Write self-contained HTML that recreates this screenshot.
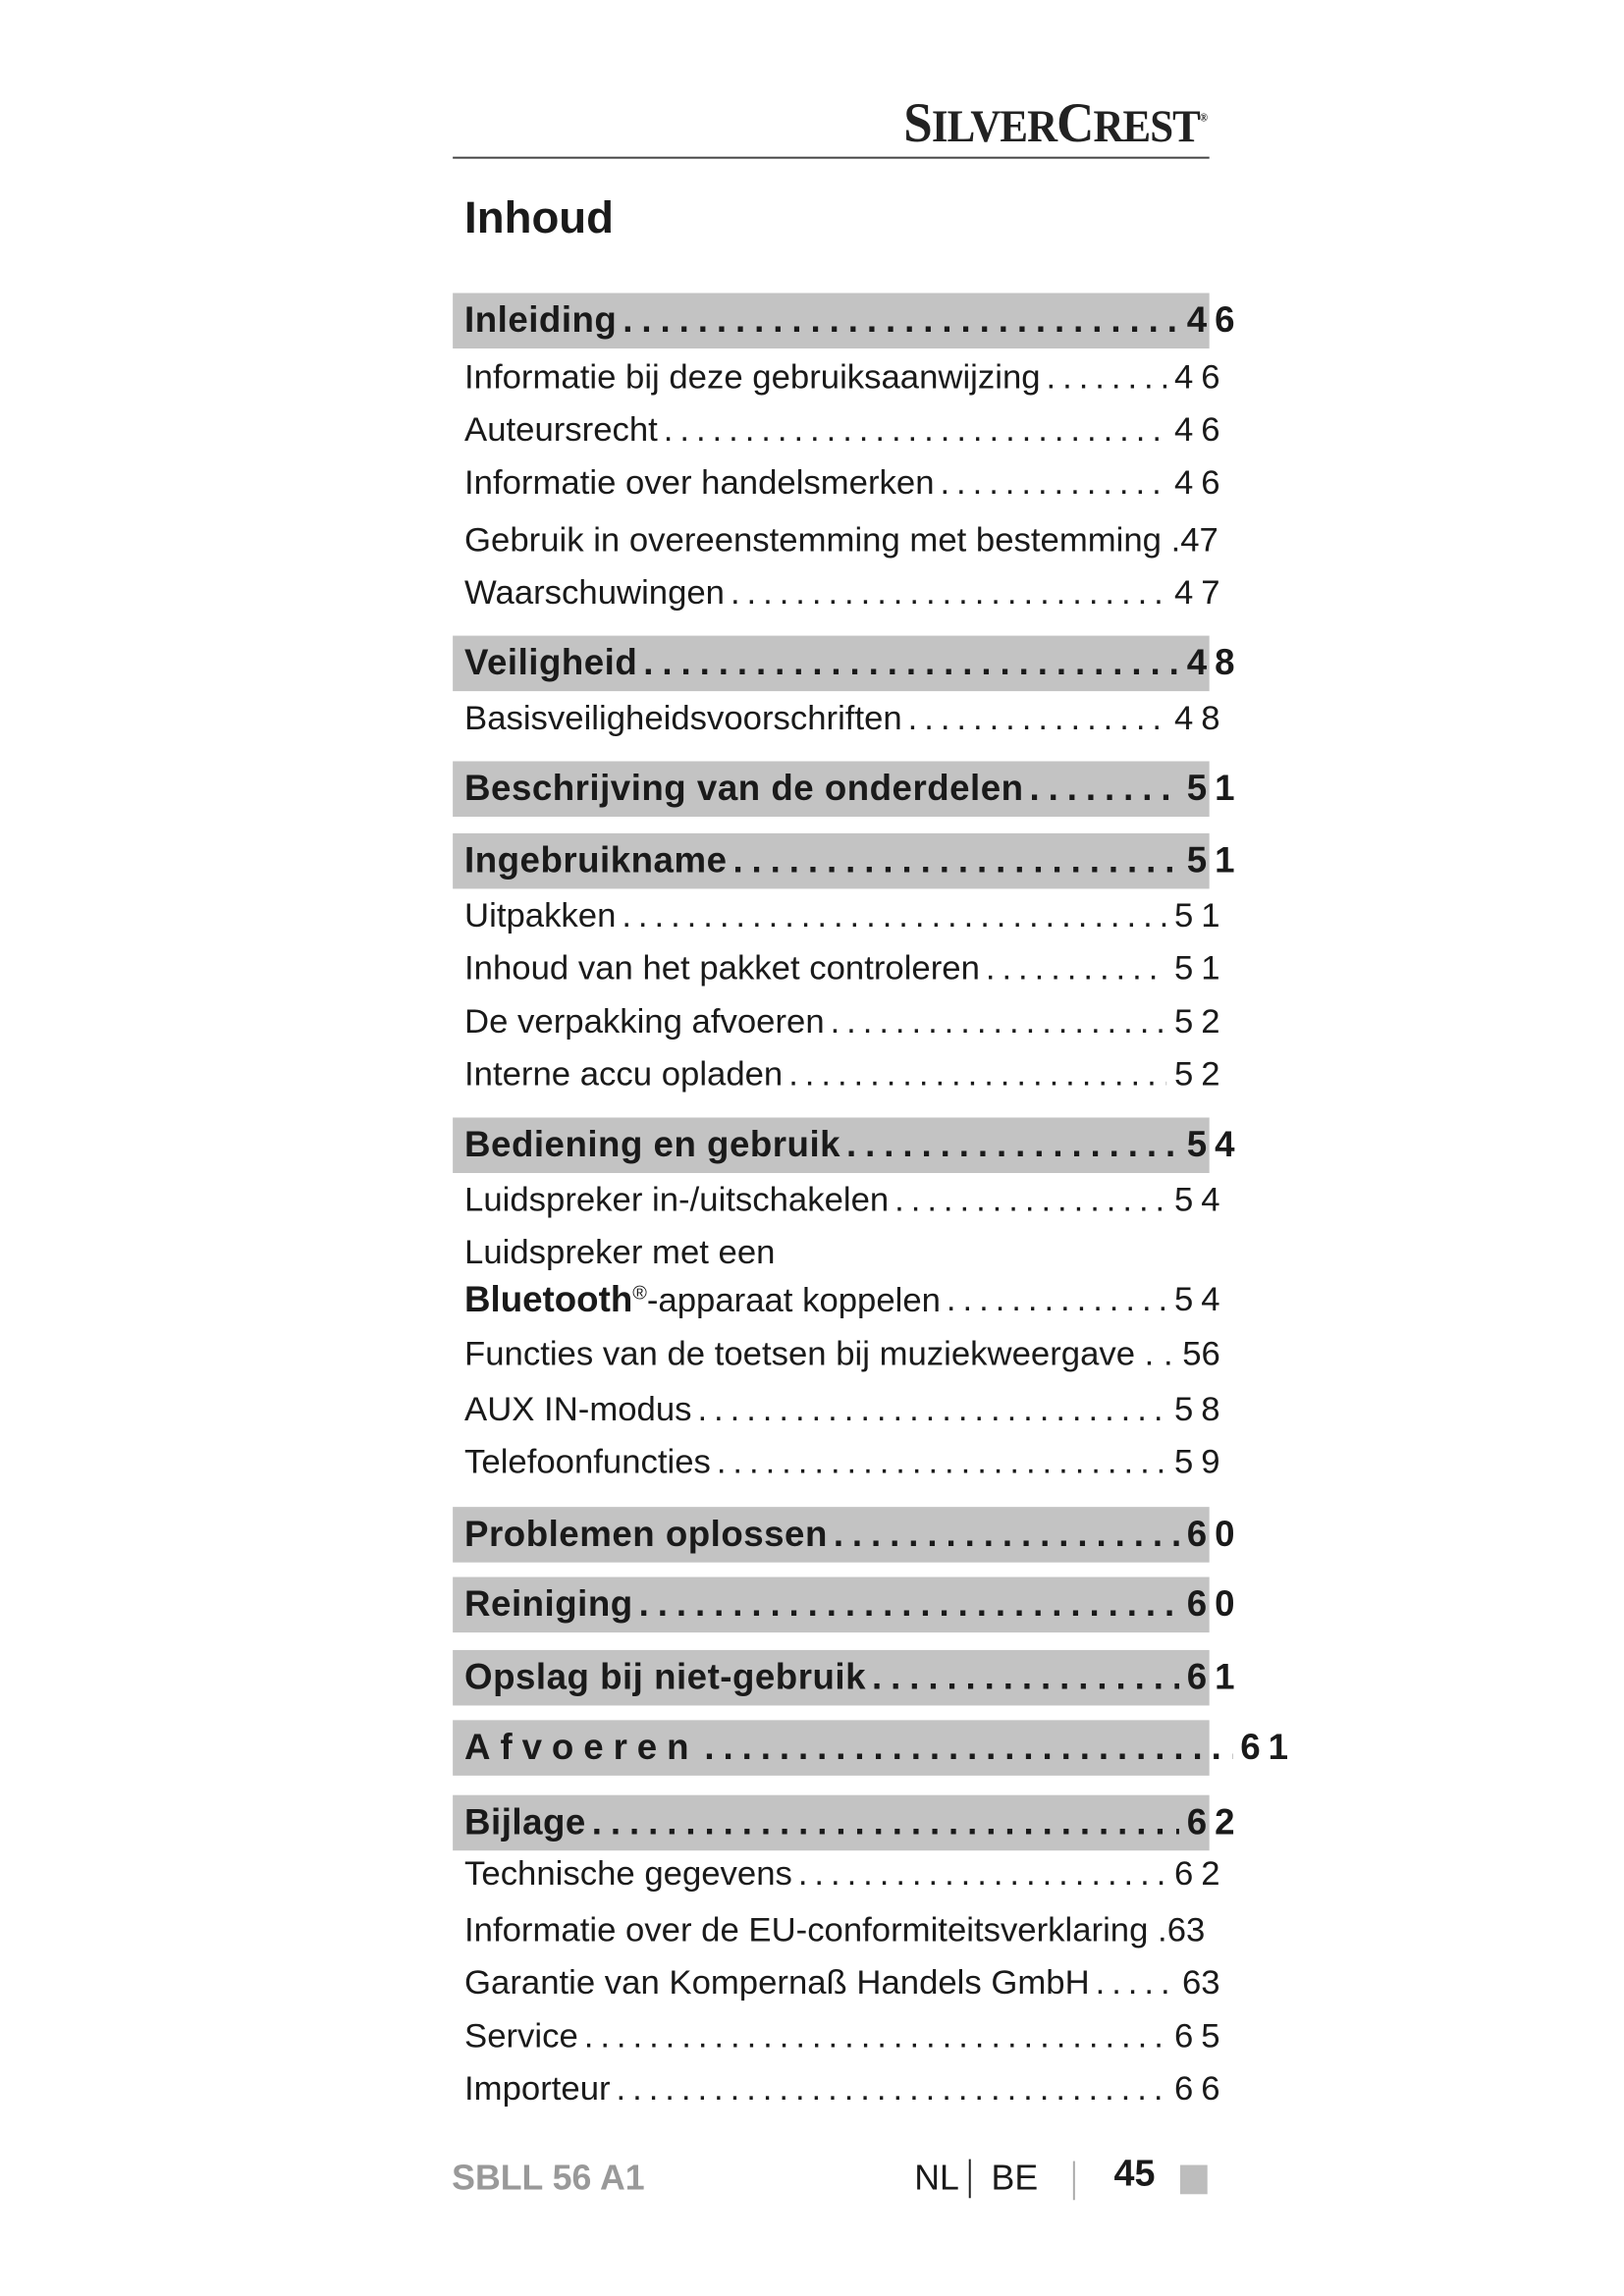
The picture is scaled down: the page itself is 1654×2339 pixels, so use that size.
<!DOCTYPE html>
<html><head><meta charset="utf-8"><style>
body{margin:0;background:#fff;}
#o{position:relative;width:1654px;height:2339px;overflow:hidden;background:#fff;}
#p{position:absolute;left:0;top:0;width:1654px;height:2339px;transform:scale(0.9917);transform-origin:0 0;color:#1a1a1a;font-family:"Liberation Sans",sans-serif;}
.r{position:absolute;left:477px;width:776px;height:54px;line-height:54px;display:flex;font-size:35px;white-space:nowrap;}
.r .l{flex:none;}
.r .d{flex:1;overflow:hidden;letter-spacing:7px;padding-left:6px;margin-right:8px;}
.r .n{flex:none;letter-spacing:8px;margin-right:-8px;}
.h{font-weight:bold;font-size:37px;width:791px;}
.h .l{letter-spacing:0.5px;}
.h .d{letter-spacing:9px;}
.b{position:absolute;left:465px;width:777px;height:57px;background:#c3c3c3;}
</style></head><body><div id="o"><div id="p">
<div style="position:absolute;left:928px;top:92px;font-family:'Liberation Serif',serif;font-weight:bold;font-size:58px;letter-spacing:-1px;color:#222;transform:scaleX(0.92);transform-origin:left;">S<span style="font-size:47px">ILVER</span>C<span style="font-size:47px">REST</span><sup style="font-size:12px">®</sup></div>
<div style="position:absolute;left:465px;top:161px;width:777px;height:2px;background:#444;"></div>
<div style="position:absolute;left:477px;top:196px;font-weight:bold;font-size:46px;">Inhoud</div>

<div class="b" style="top:301px"></div>
<div class="b" style="top:653px"></div>
<div class="b" style="top:782px"></div>
<div class="b" style="top:856px"></div>
<div class="b" style="top:1148px"></div>
<div class="b" style="top:1548px"></div>
<div class="b" style="top:1620px"></div>
<div class="b" style="top:1695px"></div>
<div class="b" style="top:1767px"></div>
<div class="b" style="top:1844px"></div>

<div class="r h" style="top:302px"><span class="l">Inleiding</span><span class="d">....................................................................</span><span class="n">46</span></div>
<div class="r" style="top:361px"><span class="l">Informatie bij deze gebruiksaanwijzing</span><span class="d">....................................................................</span><span class="n">46</span></div>
<div class="r" style="top:415px"><span class="l">Auteursrecht</span><span class="d">....................................................................</span><span class="n">46</span></div>
<div class="r" style="top:469px"><span class="l">Informatie over handelsmerken</span><span class="d">....................................................................</span><span class="n">46</span></div>
<div class="r" style="top:528px"><span class="l">Gebruik in overeenstemming met bestemming .47</span></div>
<div class="r" style="top:582px"><span class="l">Waarschuwingen</span><span class="d">....................................................................</span><span class="n">47</span></div>
<div class="r h" style="top:654px"><span class="l">Veiligheid</span><span class="d">....................................................................</span><span class="n">48</span></div>
<div class="r" style="top:711px"><span class="l">Basisveiligheidsvoorschriften</span><span class="d">....................................................................</span><span class="n">48</span></div>
<div class="r h" style="top:783px"><span class="l">Beschrijving van de onderdelen</span><span class="d">....................................................................</span><span class="n">51</span></div>
<div class="r h" style="top:857px"><span class="l">Ingebruikname</span><span class="d">....................................................................</span><span class="n">51</span></div>
<div class="r" style="top:914px"><span class="l">Uitpakken</span><span class="d">....................................................................</span><span class="n">51</span></div>
<div class="r" style="top:968px"><span class="l">Inhoud van het pakket controleren</span><span class="d">....................................................................</span><span class="n">51</span></div>
<div class="r" style="top:1023px"><span class="l">De verpakking afvoeren</span><span class="d">....................................................................</span><span class="n">52</span></div>
<div class="r" style="top:1077px"><span class="l">Interne accu opladen</span><span class="d">....................................................................</span><span class="n">52</span></div>
<div class="r h" style="top:1149px"><span class="l">Bediening en gebruik</span><span class="d">....................................................................</span><span class="n">54</span></div>
<div class="r" style="top:1206px"><span class="l">Luidspreker in-/uitschakelen</span><span class="d">....................................................................</span><span class="n">54</span></div>
<div class="r" style="top:1260px"><span class="l">Luidspreker met een</span></div>
<div class="r" style="top:1308px"><span class="l"><b style="font-size:37px">Bluetooth</b><sup style="font-size:20px;line-height:0">®</sup>-apparaat koppelen</span><span class="d">....................................................................</span><span class="n">54</span></div>
<div class="r" style="top:1364px"><span class="l">Functies van de toetsen bij muziekweergave . . 56</span></div>
<div class="r" style="top:1421px"><span class="l">AUX IN-modus</span><span class="d">....................................................................</span><span class="n">58</span></div>
<div class="r" style="top:1475px"><span class="l">Telefoonfuncties</span><span class="d">....................................................................</span><span class="n">59</span></div>
<div class="r h" style="top:1549px"><span class="l">Problemen oplossen</span><span class="d">....................................................................</span><span class="n">60</span></div>
<div class="r h" style="top:1621px"><span class="l">Reiniging</span><span class="d">....................................................................</span><span class="n">60</span></div>
<div class="r h" style="top:1696px"><span class="l">Opslag bij niet-gebruik</span><span class="d">....................................................................</span><span class="n">61</span></div>
<div class="r h" style="top:1768px;width:846px"><span class="l" style="letter-spacing:10px">Afvoeren</span><span class="d">....................................................................</span><span class="n">61</span></div>
<div class="r h" style="top:1845px"><span class="l">Bijlage</span><span class="d">....................................................................</span><span class="n">62</span></div>
<div class="r" style="top:1898px"><span class="l">Technische gegevens</span><span class="d">....................................................................</span><span class="n">62</span></div>
<div class="r" style="top:1956px"><span class="l">Informatie over de EU-conformiteitsverklaring .63</span></div>
<div class="r" style="top:2010px"><span class="l">Garantie van Kompernaß Handels GmbH</span><span class="d">....................................................................</span><span class="n" style="letter-spacing:0;margin-right:0">63</span></div>
<div class="r" style="top:2065px"><span class="l">Service</span><span class="d">....................................................................</span><span class="n">65</span></div>
<div class="r" style="top:2119px"><span class="l">Importeur</span><span class="d">....................................................................</span><span class="n">66</span></div>

<div style="position:absolute;left:464px;top:2216px;font-weight:bold;font-size:36px;color:#999;">SBLL 56 A1</div>
<div style="position:absolute;left:939px;top:2216px;font-size:36px;color:#1a1a1a;">NL</div>
<div style="position:absolute;left:995px;top:2218px;width:2px;height:40px;background:#222;"></div>
<div style="position:absolute;left:1018px;top:2216px;font-size:36px;color:#1a1a1a;">BE</div>
<div style="position:absolute;left:1102px;top:2220px;width:2px;height:40px;background:#aaa;"></div>
<div style="position:absolute;left:1144px;top:2212px;font-weight:bold;font-size:38px;color:#1a1a1a;">45</div>
<div style="position:absolute;left:1212px;top:2224px;width:28px;height:30px;background:#bdbdbd;"></div>
</div></div></body></html>
